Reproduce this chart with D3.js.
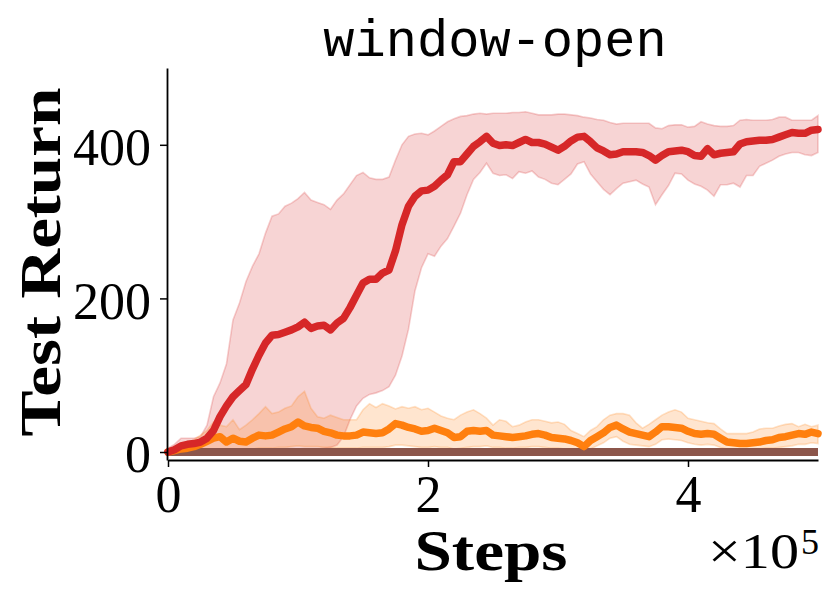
<!DOCTYPE html>
<html><head><meta charset="utf-8">
<script src="https://cdn.jsdelivr.net/npm/d3@7/dist/d3.min.js"></script>
<style>body{margin:0;background:#fff}svg{display:block}</style>
</head><body><svg id="c" width="830" height="599"></svg>
<script>
// steps in thousands
const stepsK = [0,5,10,15,20,25,30,35,40,45,50,55,60,65,70,75,80,85,90,95,
100,105,110,115,120,125,130,135,140,145,150,155,160,165,170,175,180,185,190,195,
200,205,210,215,220,225,230,235,240,245,250,255,260,265,270,275,280,285,290,295,
300,305,310,315,320,325,330,335,340,345,350,355,360,365,370,375,380,385,390,395,
400,405,410,415,420,425,430,435,440,445,450,455,460,465,470,475,480,485,490,495,500];

const redMean = [0,3,8,10,11,13,18,28,46,60,
72,80,88,108,126,142,152,153,156,159,
163,169,161,164,165,159,168,174,188,204,
220,225,225,233,237,262,296,320,333,340,
341,346,354,361,378,378,388,398,404,411,
402,399,400,399,403,407,403,403,401,397,
393,398,405,410,411,404,396,392,387,388,
391,391,391,390,386,380,386,391,392,393,
391,386,385,395,387,389,390,391,401,404,
405,406,406,407,410,413,416,415,415,419,
420];
const redUpper = [5,10,18,18,18,20,35,72,90,115,
172,194,222,242,258,285,307,310,320,324,
330,338,328,325,322,316,328,336,348,360,
364,357,355,355,358,380,400,411,414,415,
413,418,424,430,434,437,438,440,441,440,
441,441,441,442,442,443,441,439,439,439,
440,440,439,438,436,435,433,432,429,427,
428,428,428,428,428,422,421,425,426,426,
423,424,430,427,425,424,424,425,432,433,
432,432,432,433,436,436,432,432,432,432,
438];
const redLower = [-3,0,1,1,1,2,2,2,2,3,
3,3,3,3,3,3,4,4,4,4,
4,4,4,4,5,6,9,20,42,60,
70,75,77,80,85,100,125,160,210,240,
258,255,268,278,294,311,335,355,364,376,
363,360,361,356,365,363,366,358,355,350,
348,355,362,375,378,362,352,342,335,343,
350,352,354,349,345,322,335,347,363,362,
354,349,346,341,333,348,348,350,345,360,
360,372,376,380,385,388,390,390,387,386,
390];

const orangeMean = [0,2,4,5,7,10,14,18,20,13,
18,14,13,18,22,21,22,26,30,33,
39,34,32,31,27,25,22,21,21,22,
26,25,24,25,30,37,35,32,30,27,
28,31,28,25,19,20,27,28,27,28,
22,21,20,19,20,21,23,24,22,19,
18,17,15,12,7,15,20,25,32,35,
30,26,24,22,20,26,33,33,32,31,
27,24,23,24,23,18,13,12,11,11,
12,13,15,16,19,20,22,24,23,26,
24];
const orangeUpper = [3,4,8,12,16,22,28,39,35,33,
42,29,35,42,50,59,50,52,57,60,
72,79,57,46,44,48,45,42,42,42,
55,63,58,63,60,56,59,57,59,55,
57,52,47,44,42,48,52,55,50,44,
35,42,40,33,35,39,42,42,40,38,
39,36,28,24,20,28,33,42,48,50,
50,48,38,31,36,42,48,52,55,52,
44,42,40,38,37,30,24,24,24,24,
26,30,31,31,34,36,37,33,36,33,
35];
const orangeLower = [-2,0,1,1,1,2,2,3,4,3,
4,4,3,4,5,5,5,6,6,7,
8,7,7,7,6,6,5,5,5,5,
6,6,6,6,7,9,9,8,7,6,
6,7,6,6,4,5,6,7,7,8,
6,6,5,5,6,6,7,7,6,5,
5,4,4,3,2,4,8,12,18,20,
14,10,9,8,7,10,16,17,16,15,
12,10,9,10,9,6,4,3,3,3,
3,4,5,5,6,7,8,10,10,12,
11];

const brownStepsK = [0,100,200,300,400,500];
const brownMean = [0,0,0,0,0,0];

const xTicks = [0, 200000, 400000];
const xTickLabels = ["0","2","4"];
const yTicks = [0, 200, 400];

const title = "window-open";
const xLabel = "Steps";
const yLabel = "Test Return";

const RED = "#d62728", ORANGE = "#ff7f0e", BROWN = "#8c564b";

const svg = d3.select('#c');
const x = d3.scaleLinear().domain([0, 500000]).range([168, 818]);
const y = d3.scaleLinear().domain([-10.4, 500]).range([460, 68]);

function rows(mean, lo, hi){ return stepsK.map((s,i)=>({s:s*1000, m:mean[i], lo:lo[i], hi:hi[i]})); }
const red = rows(redMean, redLower, redUpper);
const orange = rows(orangeMean, orangeLower, orangeUpper);
const brown = brownStepsK.map((s,i)=>({s:s*1000, m:brownMean[i]}));

const area = d3.area().x(d=>x(d.s)).y0(d=>y(d.lo)).y1(d=>y(d.hi));
const line = d3.line().x(d=>x(d.s)).y(d=>y(d.m));

const g = svg.append('g');
function band(data, col){
  g.append('path').datum(data).attr('d', area)
    .attr('fill', col).attr('fill-opacity', 0.2)
    .attr('stroke', col).attr('stroke-opacity', 0.22).attr('stroke-width', 1.6);
}
band(red, RED);
band(orange, ORANGE);

g.append('path').datum(brown).attr('d', line).attr('fill','none')
  .attr('stroke', BROWN).attr('stroke-width', 8);
g.append('path').datum(orange).attr('d', line).attr('fill','none')
  .attr('stroke', ORANGE).attr('stroke-width', 7.5).attr('stroke-linejoin','round').attr('stroke-linecap','round');
g.append('path').datum(red).attr('d', line).attr('fill','none')
  .attr('stroke', RED).attr('stroke-width', 7.5).attr('stroke-linejoin','round').attr('stroke-linecap','round');

// axes
const yAxis = d3.axisLeft(y).tickValues(yTicks).tickSize(7).tickSizeOuter(0).tickPadding(9).tickFormat(d3.format('d'));
const ya = svg.append('g').attr('transform','translate(167,0)').call(yAxis);
const xAxis = d3.axisBottom(x).tickValues(xTicks).tickSize(7).tickSizeOuter(0).tickPadding(8).tickFormat((d,i)=>xTickLabels[i]);
const xa = svg.append('g').attr('transform','translate(0,460)').call(xAxis);
[ya, xa].forEach(a=>{
  a.select('.domain').attr('stroke','#000').attr('stroke-width',1.8);
  a.selectAll('.tick line').attr('stroke','#000').attr('stroke-width',1.5);
  a.selectAll('.tick text').attr('fill','#000')
    .style('font-family','"Liberation Serif", serif').style('font-size','52px');
});
ya.selectAll('.tick text').attr('dy','0.38em');

// title
svg.append('text').attr('x', 495).attr('y', 56).attr('text-anchor','middle')
  .style('font-family','"Liberation Mono", monospace').style('font-size','52px')
  .attr('fill','#000').text(title);

// y label
svg.append('text').attr('transform','translate(60,262) rotate(-90)').attr('text-anchor','middle')
  .style('font-family','"Liberation Serif", serif').style('font-size','58px').style('font-weight','bold')
  .attr('textLength', 349).attr('lengthAdjust','spacingAndGlyphs')
  .attr('fill','#000').text(yLabel);

// x label
svg.append('text').attr('x', 491).attr('y', 570).attr('text-anchor','middle')
  .style('font-family','"Liberation Serif", serif').style('font-size','58px').style('font-weight','bold')
  .attr('textLength', 153).attr('lengthAdjust','spacingAndGlyphs')
  .attr('fill','#000').text(xLabel);

// offset text
svg.append('text').attr('x', 708).attr('y', 568)
  .style('font-family','"Liberation Serif", serif').style('font-size','50px')
  .attr('textLength', 91).attr('lengthAdjust','spacingAndGlyphs')
  .attr('fill','#000').text('×10');
svg.append('text').attr('x', 801).attr('y', 554)
  .style('font-family','"Liberation Serif", serif').style('font-size','36px')
  .attr('fill','#000').text('5');
</script>
</body></html>
